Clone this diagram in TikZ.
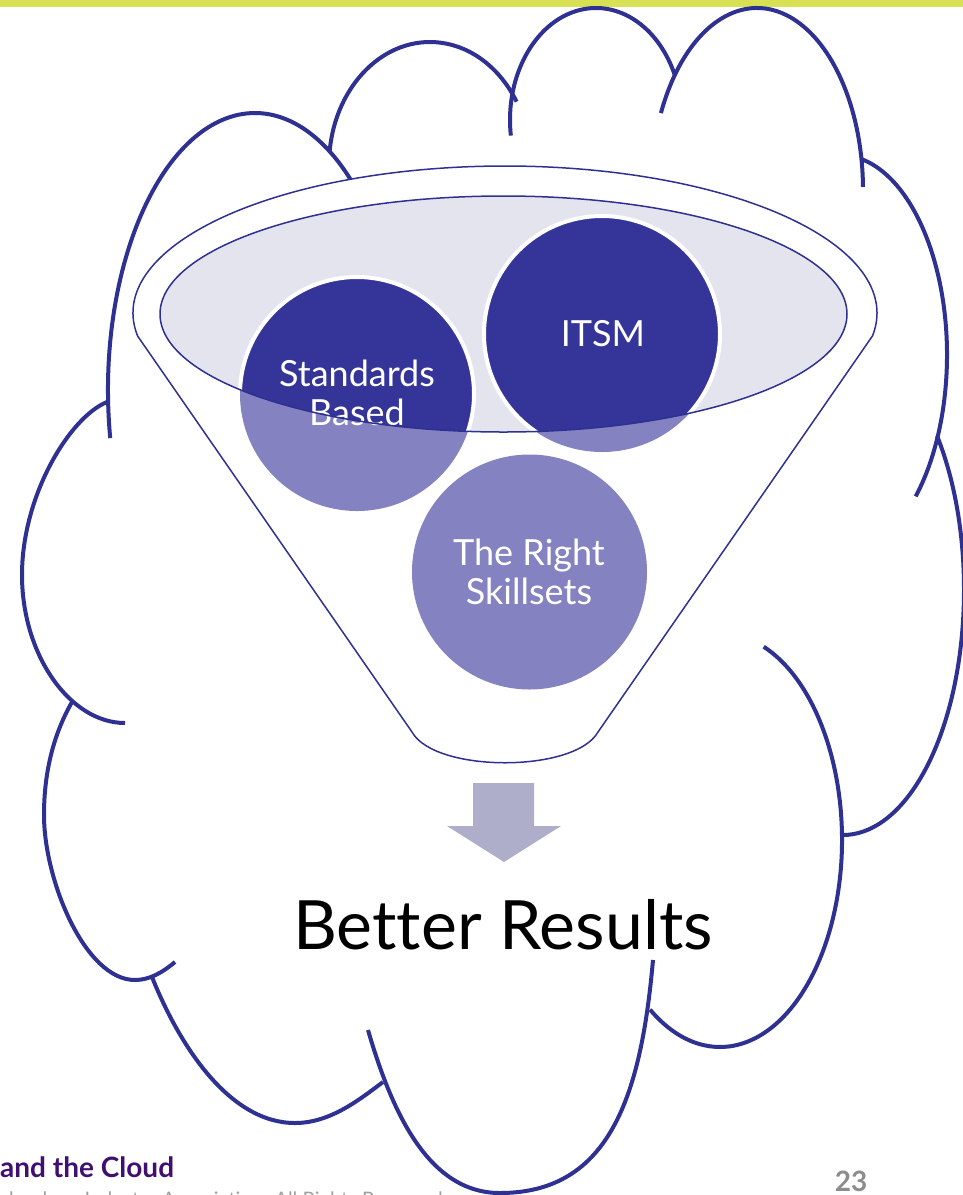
\documentclass[tikz,border=0pt]{standalone}
\usepackage{fontspec}
\setmainfont{Lato}[Ligatures={NoCommon}]
\definecolor{cloudblue}{RGB}{46,49,146}
\definecolor{darkcirc}{RGB}{52,52,153}
\definecolor{lightcirc}{RGB}{132,130,193}
\definecolor{lavender}{RGB}{228,228,238}
\definecolor{arrowcol}{RGB}{174,174,203}
\definecolor{barcol}{RGB}{216,225,84}
\definecolor{footpurple}{RGB}{64,16,112}
\definecolor{footgray}{RGB}{140,140,140}
\definecolor{copygray}{RGB}{160,160,160}
\begin{document}
\begin{tikzpicture}[x=1pt,y=-1pt,
  cloudarc/.style={draw=cloudblue,line width=4pt},
  funnelline/.style={draw=cloudblue,line width=1.5pt},
  circtext/.style={text=white,align=center,font=\fontsize{36}{39}\selectfont,inner sep=0pt}]
\useasboundingbox (0,0) rectangle (963,1195);
\clip (0,0) rectangle (963,1195);
% top bar
\fill[barcol] (0,0) rectangle (963,7);
% cloud bumps (elliptic arcs)
\draw[cloudarc] ([shift={(255,390)}]170:147 and 277) arc[start angle=170,end angle=314.5,x radius=147,y radius=277];
\draw[cloudarc] ([shift={(430,165)}]186:101 and 123) arc[start angle=186,end angle=329,x radius=101,y radius=123];
\draw[cloudarc] ([shift={(596,120)}]172:86 and 112) arc[start angle=172,end angle=337,x radius=86,y radius=112];
\draw[cloudarc] ([shift={(757,190)}]205:106 and 182) arc[start angle=205,end angle=359,x radius=106,y radius=182];
\draw[cloudarc] ([shift={(840,355)}]282:107 and 200) arc[start angle=282,end angle=405,x radius=107,y radius=200];
\draw[cloudarc] ([shift={(843,590)}]321:121 and 245) arc[start angle=321,end angle=450,x radius=121,y radius=245];
\draw[cloudarc] ([shift={(720,840)}]291:122 and 207) arc[start angle=291,end angle=485,x radius=122,y radius=207];
% cloud bumps (curves)
\draw[cloudarc] (653,960) .. controls (641,1095) and (610,1193) .. (500,1193)
  .. controls (430,1193) and (393,1116) .. (368,1030);
\draw[cloudarc] (383,1082) .. controls (359,1100) and (330,1123) .. (295,1123)
  .. controls (230,1123) and (180,1047) .. (152,977);
\draw[cloudarc] (72,702) .. controls (54.5,732.5) and (44,770) .. (44,815)
  .. controls (44,880) and (85,980) .. (135,980)
  .. controls (150,980) and (163,972) .. (175,962);
\draw[cloudarc] (107,402) .. controls (70,417) and (22,495) .. (22,575)
  .. controls (22,655) and (70,723) .. (125,723);
% funnel body
\path[funnelline,fill=white] (137.6,336) arc[start angle=171,end angle=369,x radius=372,y radius=147]
  -- (598,732) .. controls (575,773) and (435,773) .. (412,732) -- cycle;
% liquid surface
\fill[lavender] (503.5,314) ellipse[x radius=343.5,y radius=118];
% circles, light part
\fill[lightcirc] (357,394) circle[radius=117];
\fill[lightcirc] (602,334) circle[radius=118];
\fill[lightcirc] (529.5,572) circle[radius=117.5];
% circles, dark part inside the surface
\begin{scope}
  \clip (503.5,314) ellipse[x radius=343.5,y radius=118];
  \filldraw[fill=darkcirc,draw=white,line width=4pt] (357,394) circle[radius=117];
  \filldraw[fill=darkcirc,draw=white,line width=4pt] (602,334) circle[radius=118];
\end{scope}
% labels
\node[circtext] (sb) at (357,393) {Standards\\Based};
\node[circtext] (itsm) at (603,334) {ITSM};
\node[circtext] (rs) at (529,572) {The Right\\Skillsets};
% surface outline
\draw[funnelline] (503.5,314) ellipse[x radius=343.5,y radius=118];
% arrow
\fill[arrowcol] (473,783) -- (534,783) -- (534,826) -- (561,826) -- (504,862) -- (447,826) -- (473,826) -- cycle;
\node[font=\fontsize{68}{80}\selectfont,inner sep=0pt] (br) at (503,925) {Better Results};
% footer
\node[anchor=base west,font=\bfseries\fontsize{28}{30}\selectfont,text=footpurple,inner sep=0pt] (foot) at (0,1177) {and the Cloud};
\node[anchor=base east,font=\fontsize{20}{24}\selectfont,text=copygray,inner sep=0pt] (copy) at (443,1206) {Technology Industry Association. All Rights Reserved};
\node[font=\bfseries\fontsize{28}{30}\selectfont,text=footgray,inner sep=0pt] (pg) at (851,1181) {23};
\end{tikzpicture}
\end{document}
